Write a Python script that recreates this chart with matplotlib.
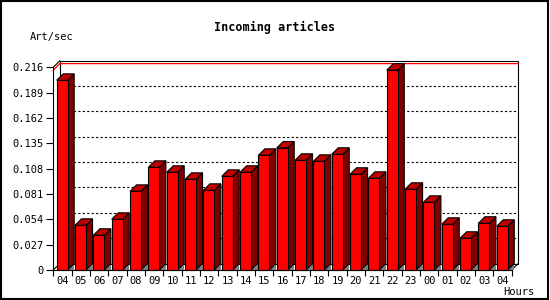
import matplotlib
matplotlib.use("Agg")
import matplotlib.pyplot as plt
from matplotlib.patches import Polygon, Rectangle

# hourly incoming article rate (articles per second)
hours = ['04', '05', '06', '07', '08', '09', '10', '11', '12', '13', '14', '15', '16',
         '17', '18', '19', '20', '21', '22', '23', '00', '01', '02', '03', '04']
rates = [0.2021, 0.0476, 0.0370, 0.0540, 0.0838, 0.1094, 0.1041, 0.0966, 0.0849,
         0.0998, 0.1041, 0.1222, 0.1300, 0.1169, 0.1158, 0.1233, 0.1020, 0.0977,
         0.2130, 0.0860, 0.0721, 0.0487, 0.0338, 0.0498, 0.0466]
yticks = [0, 0.027, 0.054, 0.081, 0.108, 0.135, 0.162, 0.189, 0.216]
ylabels = ['0', '0.027', '0.054', '0.081', '0.108', '0.135', '0.162', '0.189', '0.216']

W, H = 550, 300
fig = plt.figure(figsize=(W / 100, H / 100), dpi=100)
plt.rcParams['font.family'] = 'DejaVu Sans Mono'

# front plane of the 3d box, in pixels
x0, x1, yb, yt = 53.3, 511.7, 270, 67.3
ax = fig.add_axes([x0 / W, 1 - yb / H, (x1 - x0) / W, (yb - yt) / H])
n = len(rates)
ymax = yticks[-1]
ax.set_xlim(0, n)
ax.set_ylim(0, ymax)

# depth offset: ~6.5 px converted to data units
depth_px = 6.5
dx = depth_px / ((x1 - x0) / n)
dy = depth_px * ymax / (yb - yt)

lw = 0.8
# back wall + grid
ax.add_patch(Rectangle((dx, dy), n, ymax, fill=False, ec='black', lw=lw, clip_on=False, zorder=1))
for v in yticks[1:-1]:
    ax.plot([dx, n + dx], [v + dy, v + dy], color='black', lw=0.8,
            linestyle=(0, (2, 2)), clip_on=False, zorder=1)
for xx, yy in [(0, 0), (0, ymax), (n, 0)]:
    ax.plot([xx, xx + dx], [yy, yy + dy], color='black', lw=lw, clip_on=False, zorder=1)

# max line in red
mx = max(rates)
ax.plot([0, dx, n + dx], [mx, mx + dy, mx + dy], color='#ff0000', lw=0.9, clip_on=False, zorder=1.5)

# 3d bars
bl, br = 0.185, 0.785
for i, v in enumerate(rates):
    xl, xr = i + bl, i + br
    ax.add_patch(Polygon([(xr, 0), (xr + dx, 0), (xr + dx, dy)], closed=True,
                         fc='#808080', ec='none', clip_on=False, zorder=2))
    ax.add_patch(Polygon([(xr, 0), (xr + dx, dy), (xr + dx, v + dy), (xr, v)], closed=True,
                         fc='#800000', ec='black', lw=lw, clip_on=False, zorder=3))
    ax.add_patch(Polygon([(xl, v), (xl + dx, v + dy), (xr + dx, v + dy), (xr, v)], closed=True,
                         fc='#c00000', ec='black', lw=lw, clip_on=False, zorder=3))
    ax.add_patch(Rectangle((xl, 0), br - bl, v, fc='#ff0000', ec='black', lw=lw,
                           clip_on=False, zorder=4))

ax.spines['top'].set_visible(False)
ax.spines['right'].set_visible(False)
ax.spines['left'].set_linewidth(lw)
ax.spines['bottom'].set_linewidth(lw)
ax.spines['left'].set_zorder(5)
ax.spines['bottom'].set_zorder(5)
ax.set_facecolor('none')

ax.set_yticks(yticks)
ax.set_yticklabels(ylabels)
ax.set_xticks(range(n + 1))
ax.set_xticklabels([])
ax.set_xticks([i + 0.5 for i in range(n)], minor=True)
ax.set_xticklabels(hours, minor=True)
ax.tick_params(axis='y', length=5, width=lw, labelsize=7.5, pad=2)
ax.tick_params(axis='x', which='major', length=4, width=lw)
ax.tick_params(axis='x', which='minor', length=0, labelsize=7.5, pad=4)

fig.text(275 / W, 1 - 27 / H, 'Incoming articles', ha='center', va='center',
         fontsize=8.5, fontweight='bold')
fig.text(30 / W, 1 - 37 / H, 'Art/sec', ha='left', va='center', fontsize=7.5)
fig.text(534 / W, 1 - 292 / H, 'Hours', ha='right', va='center', fontsize=7.5)

# outer border
fig.patches.append(Rectangle((0.002, 0.004), 0.994, 0.992, transform=fig.transFigure,
                             fill=False, ec='black', lw=1.5))

fig.savefig('out.png', dpi=100)
